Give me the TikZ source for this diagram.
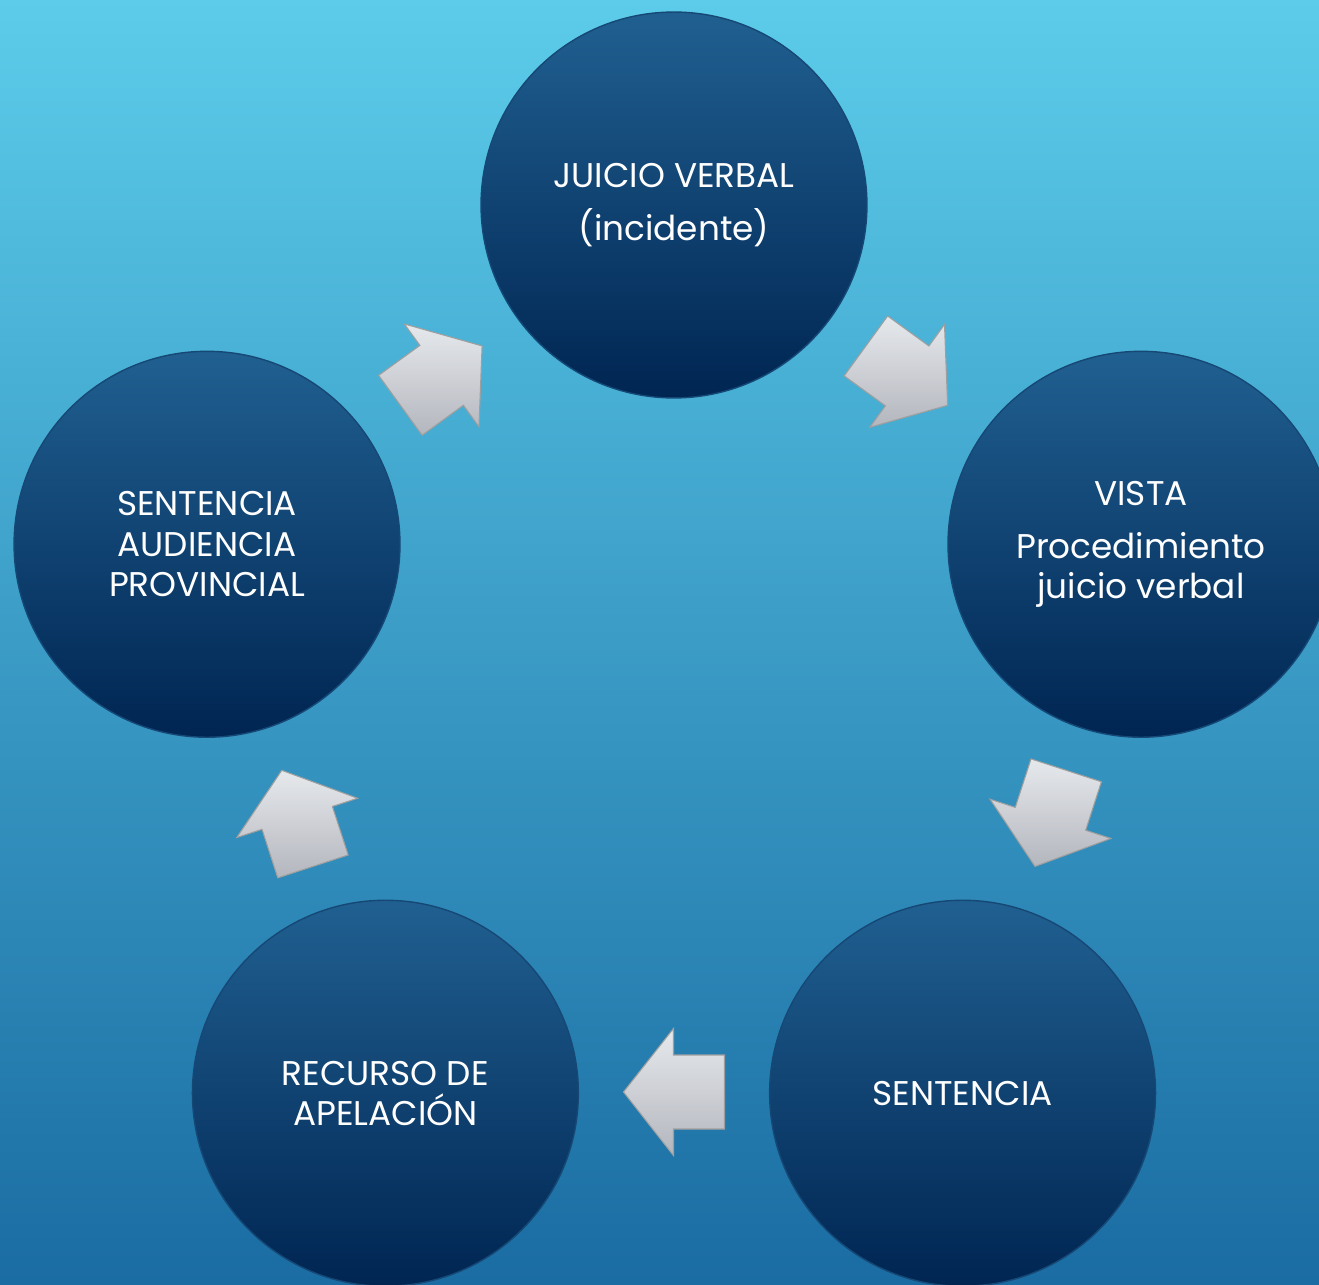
\documentclass[tikz,border=0pt]{standalone}
\usepackage{fontspec}
\setmainfont{Poppins}
\definecolor{bgtop}{RGB}{92,204,234}
\definecolor{bgbottom}{RGB}{26,108,162}
\definecolor{stagetop}{RGB}{32,96,145}
\definecolor{stagemid}{RGB}{22,82,132}
\definecolor{stagebottom}{RGB}{0,37,82}
\definecolor{stageedge}{RGB}{22,72,118}
\definecolor{arrowtop}{RGB}{230,233,236}
\definecolor{arrowbottom}{RGB}{180,182,190}
\tikzset{stage/.style={circle,minimum size=7.72cm,inner sep=0pt,draw=stageedge,thick,
  top color=stagetop,middle color=stagemid,bottom color=stagebottom,
  text=white,align=center,font=\fontsize{19.5}{23}\selectfont}}
\tikzset{blockarrow/.style={draw=gray!75,line width=0.6pt,top color=arrowtop,bottom color=arrowbottom}}

\begin{document}
\begin{tikzpicture}[x=0.02cm, y=0.02cm]
    \useasboundingbox (-674,-589) rectangle (645,696);
    \clip (-674,-589) rectangle (645,696);
    \shade[top color=bgtop, bottom color=bgbottom] (-674,-589) rectangle (645,696);

    \node[stage] (juicio) at (90:491) {JUICIO VERBAL\\[0.25cm](incidente)};
    \node[stage] (vista) at (18:491) {VISTA\\[0.25cm]Procedimiento\\juicio verbal};
    \node[stage] (sentencia) at (-54:491) {SENTENCIA};
    \node[stage] (recurso) at (-126:491) {RECURSO DE\\APELACIÓN};
    \node[stage] (audiencia) at (162:491) {SENTENCIA\\AUDIENCIA\\PROVINCIAL};

    % block arrows of the cycle
    \foreach \a in {54,-18,-90,-162,126}
        \path[blockarrow, shift={(\a:396)}, rotate=\a-90]
            (-50.5,-37) -- (0.5,-37) -- (0.5,-63.5) -- (50.5,0) -- (0.5,63.5) -- (0.5,37) -- (-50.5,37) -- cycle;
\end{tikzpicture}
\end{document}
